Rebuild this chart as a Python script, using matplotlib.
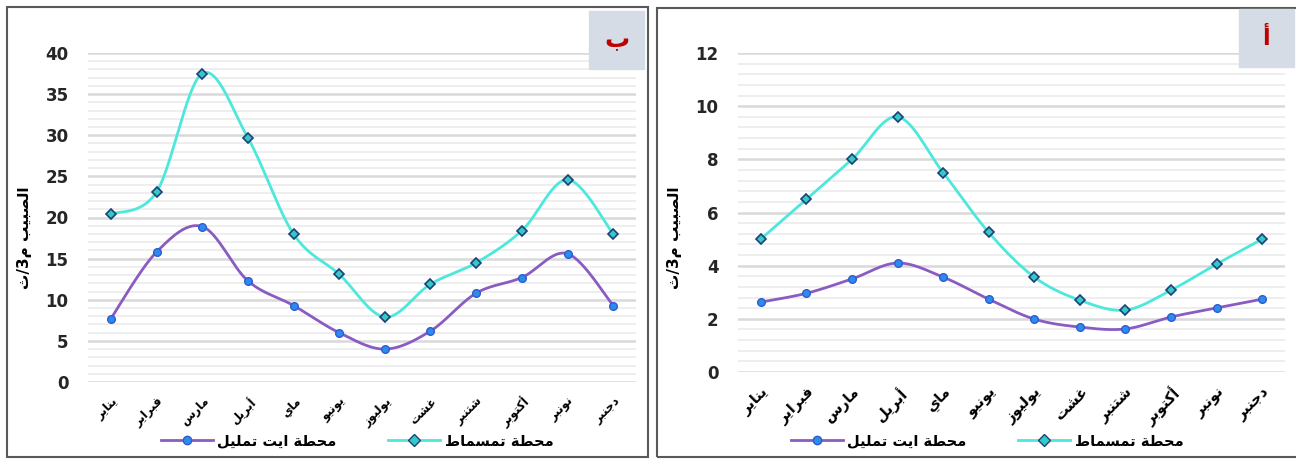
import numpy as np
import matplotlib
matplotlib.use('Agg')
import matplotlib.pyplot as plt
from matplotlib.patches import Rectangle
from matplotlib.ticker import MultipleLocator
from matplotlib.lines import Line2D

months = ['يناير', 'فبراير', 'مارس', 'أبريل', 'ماي', 'يونيو',
          'يوليوز', 'غشت', 'شتنبر', 'أكتوبر', 'نونبر', 'دجنبر']

# panel ب
b_ait_tamlil = [7.7, 15.8, 18.9, 12.3, 9.3, 6.0, 4.0, 6.2, 10.8, 12.7, 15.6, 9.3]
b_tamsmat = [20.4, 23.1, 37.5, 29.7, 18.0, 13.1, 7.9, 11.9, 14.5, 18.4, 24.6, 18.0]

# panel أ
a_ait_tamlil = [2.63, 2.96, 3.5, 4.1, 3.57, 2.74, 1.99, 1.69, 1.62, 2.07, 2.41, 2.74]
a_tamsmat = [5.0, 6.5, 8.0, 9.6, 7.5, 5.25, 3.57, 2.7, 2.33, 3.08, 4.06, 5.0]

name_ait = 'محطة ايت تمليل'
name_tams = 'محطة تمسماط'
ylabel = 'الصبيب م3/ث'

# arabic presentation forms: isolated, final, initial, medial
FORMS = {
    'ا': ('\uFE8D', '\uFE8E', None, None),
    'أ': ('\uFE83', '\uFE84', None, None),
    'ب': ('\uFE8F', '\uFE90', '\uFE91', '\uFE92'),
    'ة': ('\uFE93', '\uFE94', None, None),
    'ت': ('\uFE95', '\uFE96', '\uFE97', '\uFE98'),
    'ث': ('\uFE99', '\uFE9A', '\uFE9B', '\uFE9C'),
    'ج': ('\uFE9D', '\uFE9E', '\uFE9F', '\uFEA0'),
    'ح': ('\uFEA1', '\uFEA2', '\uFEA3', '\uFEA4'),
    'د': ('\uFEA9', '\uFEAA', None, None),
    'ر': ('\uFEAD', '\uFEAE', None, None),
    'ز': ('\uFEAF', '\uFEB0', None, None),
    'س': ('\uFEB1', '\uFEB2', '\uFEB3', '\uFEB4'),
    'ش': ('\uFEB5', '\uFEB6', '\uFEB7', '\uFEB8'),
    'ص': ('\uFEB9', '\uFEBA', '\uFEBB', '\uFEBC'),
    'ط': ('\uFEC1', '\uFEC2', '\uFEC3', '\uFEC4'),
    'غ': ('\uFECD', '\uFECE', '\uFECF', '\uFED0'),
    'ف': ('\uFED1', '\uFED2', '\uFED3', '\uFED4'),
    'ك': ('\uFED9', '\uFEDA', '\uFEDB', '\uFEDC'),
    'ل': ('\uFEDD', '\uFEDE', '\uFEDF', '\uFEE0'),
    'م': ('\uFEE1', '\uFEE2', '\uFEE3', '\uFEE4'),
    'ن': ('\uFEE5', '\uFEE6', '\uFEE7', '\uFEE8'),
    'و': ('\uFEED', '\uFEEE', None, None),
    'ي': ('\uFEF1', '\uFEF2', '\uFEF3', '\uFEF4'),
}


def ar(text):
    out = []
    for i, c in enumerate(text):
        if c not in FORMS:
            out.append(c)
            continue
        f = FORMS[c]
        prev = text[i-1] if i > 0 else None
        nxt = text[i+1] if i + 1 < len(text) else None
        jp = prev in FORMS and FORMS[prev][2] is not None
        jn = f[2] is not None and nxt in FORMS
        if jp and jn:
            out.append(f[3])
        elif jp:
            out.append(f[1])
        elif jn:
            out.append(f[2])
        else:
            out.append(f[0])
    return ''.join(out)[::-1]


def smooth(y, n=30):
    # excel-like smoothed line (catmull-rom bezier)
    y = np.asarray(y, float)
    x = np.arange(len(y), dtype=float)
    P = np.column_stack([x, y])
    P = np.vstack([P[0], P, P[-1]])
    t = np.linspace(0, 1, n)[:, None]
    segs = []
    for i in range(1, len(P) - 2):
        p0, p1, p2, p3 = P[i-1], P[i], P[i+1], P[i+2]
        c1 = p1 + (p2 - p0) / 6
        c2 = p2 - (p3 - p1) / 6
        b = ((1-t)**3)*p1 + 3*((1-t)**2)*t*c1 + 3*(1-t)*t**2*c2 + t**3*p2
        segs.append(b)
    s = np.vstack(segs)
    return s[:, 0], s[:, 1]


plt.rcParams['font.family'] = ['DejaVu Sans']
fig = plt.figure(figsize=(12.96, 4.59), dpi=100)

purple = '#8A5CC2'
cyan = '#4DE8DC'


def panel(rect, ait, tams, ymax, major, minor, tick_fs):
    ax = fig.add_axes(rect)
    x = np.arange(len(months))
    xs, ys = smooth(tams)
    ax.plot(xs, ys, color=cyan, lw=2, zorder=3)
    ax.plot(x, tams, ls='none', marker='D', ms=5.5, mfc='#35C9C4', mec='#1F3F7A', mew=1.2, zorder=4)
    xs, ys = smooth(ait)
    ax.plot(xs, ys, color=purple, lw=2, zorder=3)
    ax.plot(x, ait, ls='none', marker='o', ms=5.5, mfc='#2C8CEB', mec='#2F5BD0', mew=1, zorder=4)
    ax.set_xlim(-0.5, len(months) - 0.5)
    ax.set_ylim(0, ymax)
    ax.yaxis.set_major_locator(MultipleLocator(major))
    ax.yaxis.set_minor_locator(MultipleLocator(minor))
    ax.grid(which='minor', axis='y', color='#EDEDED', lw=1.3, zorder=0)
    ax.grid(which='major', axis='y', color='#D9D9D9', lw=1.8, zorder=1)
    ax.set_axisbelow(True)
    for s in ax.spines.values():
        s.set_visible(False)
    ax.tick_params(which='both', length=0)
    ax.tick_params(axis='y', pad=14, labelsize=12, labelcolor='#262626')
    for lab in ax.get_yticklabels():
        lab.set_fontweight('bold')
    ax.set_xticks(x)
    ax.set_xticklabels([ar(m) for m in months], rotation=45, ha='right',
                       rotation_mode='anchor', fontsize=tick_fs, fontweight='bold')
    ax.tick_params(axis='x', pad=9)
    return ax


ax_b = panel([88/1296, 1-382/459, 548/1296, 329/459], b_ait_tamlil, b_tamsmat, 40, 5, 1, 8.5)
ax_a = panel([738/1296, 1-372/459, 547/1296, 319/459], a_ait_tamlil, a_tamsmat, 12, 2, 0.4, 10.5)

handles = [Line2D([], [], color=purple, lw=2, marker='o', ms=6, mfc='#2C8CEB', mec='#2F5BD0'),
           Line2D([], [], color=cyan, lw=2, marker='D', ms=6, mfc='#35C9C4', mec='#1F3F7A')]
for cx in (357/1296, 987/1296):
    fig.legend(handles, [ar(name_ait), ar(name_tams)], loc='center', bbox_to_anchor=(cx, 1-441/459),
               ncol=2, frameon=False, handlelength=3.6, handletextpad=0.3, columnspacing=3.5,
               prop={'weight': 'bold', 'size': 10.5})

for yx in (25/1296, 675/1296):
    fig.text(yx, 1-238/459, ar(ylabel), rotation=90, ha='center', va='center',
             fontsize=11, fontweight='bold')

# panel frames
fig.add_artist(Rectangle((7/1296, 1-457/459), 641/1296, 450/459, transform=fig.transFigure,
                         fill=False, ec='#595959', lw=1.5))
fig.add_artist(Rectangle((657/1296, 1-457/459), 650/1296, 449/459, transform=fig.transFigure,
                         fill=False, ec='#595959', lw=1.5))

# panel letters
for (bx, by, letter, fs) in ((589, 69, 'ب', 18), (1239, 67, 'أ', 16)):
    fig.add_artist(Rectangle((bx/1296, 1-by/459), 55/1296, 58/459, transform=fig.transFigure,
                             color='#D6DCE5', zorder=5))
    fig.text((bx+27.5)/1296, 1-(by-29)/459, ar(letter), ha='center', va='center',
             color='#C00000', fontsize=fs, fontweight='bold', zorder=6)

fig.savefig('out.png', dpi=100)
